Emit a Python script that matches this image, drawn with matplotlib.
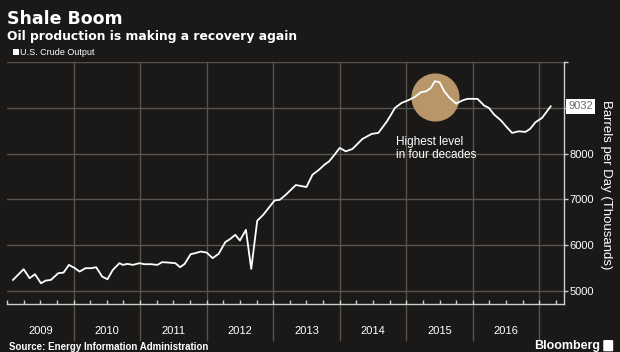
import matplotlib
matplotlib.use("Agg")
import matplotlib.pyplot as plt
from matplotlib.patches import FancyBboxPatch

# U.S. crude output, thousand barrels per day
years = [2009.09, 2009.25, 2009.34, 2009.42, 2009.51, 2009.58, 2009.66, 2009.77,
         2009.85, 2009.93, 2010.02, 2010.09, 2010.18, 2010.27, 2010.34, 2010.43,
         2010.51, 2010.59, 2010.69, 2010.74, 2010.81, 2010.89, 2010.99, 2011.06,
         2011.16, 2011.26, 2011.33, 2011.43, 2011.53, 2011.60, 2011.67, 2011.76,
         2011.83, 2011.91, 2012.00, 2012.09, 2012.18, 2012.28, 2012.35, 2012.43,
         2012.50, 2012.59, 2012.67, 2012.76, 2012.85, 2013.02, 2013.10, 2013.19,
         2013.34, 2013.50, 2013.59, 2013.69, 2013.77, 2013.84, 2013.91, 2014.00,
         2014.09, 2014.19, 2014.34, 2014.48, 2014.58, 2014.71, 2014.78, 2014.83,
         2014.93, 2015.03, 2015.13, 2015.22, 2015.30, 2015.37, 2015.43, 2015.50,
         2015.57, 2015.65, 2015.75, 2015.85, 2015.92, 2016.07, 2016.17, 2016.24,
         2016.32, 2016.42, 2016.52, 2016.59, 2016.69, 2016.79, 2016.86, 2016.94,
         2017.04, 2017.17]
output = [5241, 5475, 5278, 5365, 5168, 5225, 5241, 5387,
          5401, 5569, 5497, 5423, 5497, 5497, 5518, 5313,
          5256, 5460, 5606, 5569, 5591, 5569, 5606, 5584,
          5584, 5569, 5628, 5619, 5606, 5518, 5591, 5803,
          5825, 5860, 5838, 5716, 5810, 6066, 6131, 6225,
          6101, 6335, 5481, 6532, 6663, 6976, 6991, 7101,
          7313, 7269, 7538, 7648, 7757, 7830, 7954, 8123,
          8048, 8100, 8319, 8429, 8451, 8705, 8873, 8998,
          9107, 9164, 9238, 9339, 9361, 9435, 9581, 9558,
          9361, 9217, 9092, 9164, 9195, 9195, 9048, 8998,
          8851, 8727, 8560, 8451, 8486, 8473, 8538, 8683,
          8779, 9032]

year_labels = ["2009", "2010", "2011", "2012", "2013", "2014", "2015", "2016"]
year_starts = [2009, 2010, 2011, 2012, 2013, 2014, 2015, 2016]
y_ticks = [5000, 6000, 7000, 8000, 9000, 10000]
y_labels = ["5000", "6000", "7000", "8000", "", ""]
peak_year, peak_value = 2015.43, 9234
last_value = 9032

bg = "#1b1918"
grid = "#57534f"
spine = "#cfcfcf"
narrow = "Liberation Sans"

fig = plt.figure(figsize=(6.2, 3.52), dpi=100, facecolor=bg)
ax = fig.add_axes([0.0113, 0.1364, 0.8984, 0.6875], facecolor=bg)

ax.set_xlim(2009.08, 2017.37)
ax.set_ylim(4715, 10000)

# horizontal grid
for v in y_ticks:
    ax.axhline(v, color=grid, lw=1, zorder=1)
# year separators extend below the axis
for yr in year_starts[1:] + [2017]:
    ax.axvline(yr, ymin=-0.15, ymax=1, color=grid, lw=1, zorder=1, clip_on=False)

# highlight circle
ax.scatter([peak_year], [peak_value], s=1200, color="#b8966a", zorder=2, linewidths=0)

ax.plot(years, output, color="white", lw=1.3, zorder=3)

for s in ["top", "left"]:
    ax.spines[s].set_visible(False)
for s in ["bottom", "right"]:
    ax.spines[s].set_color(spine)
    ax.spines[s].set_linewidth(1)

ax.yaxis.tick_right()
ax.set_yticks(y_ticks)
ax.set_yticklabels(y_labels, family=narrow)
ax.set_yticks([4750 + 500 * i for i in range(11) if (4750 + 500 * i) % 1000 == 500], minor=True)
ax.tick_params(axis="y", which="major", colors=spine, length=3, width=1, pad=1, labelsize=8,
               labelcolor="white")
ax.tick_params(axis="y", which="minor", colors=spine, length=2, width=1, direction="in")

# quarterly ticks on the bottom axis, no labels
ax.set_xticks([yr + q / 4 for yr in year_starts + [2017] for q in range(4) if yr + q / 4 < 2017.37])
ax.set_xticklabels([])
ax.tick_params(axis="x", colors=spine, length=3, width=1, direction="in")

for yr, lab in zip(year_starts, year_labels):
    ax.text(yr + 0.5, -0.11, lab, transform=ax.get_xaxis_transform(), ha="center", va="center",
            color="white", fontsize=8, family=narrow)

# last value tag
ax.text(1.008, (last_value - 4715) / (10000 - 4715), str(last_value), transform=ax.transAxes,
        ha="left", va="center", color="#6a6a6a", fontsize=8, family=narrow,
        bbox=dict(boxstyle="square,pad=0.2", facecolor="white", edgecolor="none"))

ax.text(2014.84, 8390, "Highest level\nin four decades", color="white", fontsize=8.5,
        ha="left", va="top", linespacing=1.1, family=narrow)

fig.text(0.978, 0.474, "Barrels per Day (Thousands)", rotation=270, ha="center", va="center",
         color="white", fontsize=9.5, family=narrow)

# titles
fig.text(0.011, 0.945, "Shale Boom", color="white", fontsize=12.5, fontweight="bold", va="center")
fig.text(0.011, 0.895, "Oil production is making a recovery again", color="white", fontsize=8.9,
         fontweight="bold", va="center")
fig.text(0.032, 0.852, "U.S. Crude Output", color="white", fontsize=6.5, va="center",
         family=narrow)
fig.patches.append(FancyBboxPatch((0.021, 0.845), 0.009, 0.015, boxstyle="square,pad=0",
                                  transform=fig.transFigure, facecolor="white", edgecolor="none"))

fig.text(0.014, 0.014, "Source: Energy Information Administration", color="white", fontsize=7,
         fontweight="bold", va="center", family=narrow)
fig.text(0.968, 0.016, "Bloomberg", color="white", fontsize=9, fontweight="bold", va="center",
         ha="right", family=narrow)
fig.patches.append(FancyBboxPatch((0.975, 0.004), 0.012, 0.028, boxstyle="round,pad=0.002",
                                  transform=fig.transFigure, facecolor="white", edgecolor="none"))

fig.savefig("out.png", dpi=100, facecolor=bg)
